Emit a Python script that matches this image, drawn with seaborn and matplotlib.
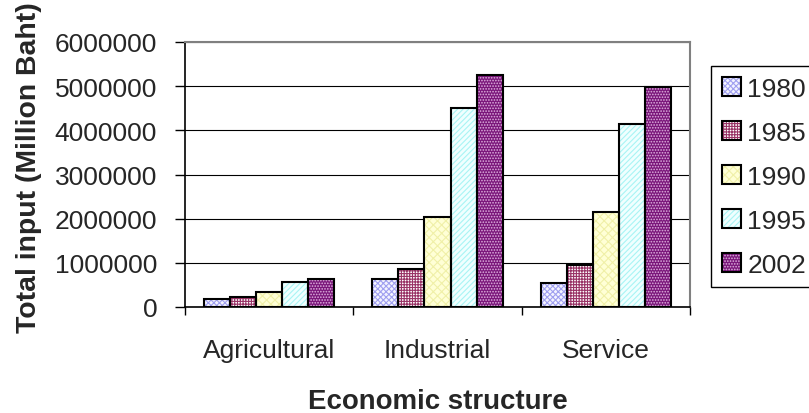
import matplotlib
matplotlib.use('Agg')
import matplotlib.pyplot as plt
import seaborn as sns
import pandas as pd
from matplotlib.patches import Rectangle, Patch
from matplotlib.legend_handler import HandlerTuple
from matplotlib.ticker import StrMethodFormatter

# ---- data ----
sectors = ['Agricultural', 'Industrial', 'Service']
years = ['1980', '1985', '1990', '1995', '2002']
v1980 = [170000, 645000, 550000]
v1985 = [225000, 857000, 940000]
v1990 = [345000, 2030000, 2140000]
v1995 = [555000, 4516000, 4136000]
v2002 = [645000, 5250000, 4980000]
yticks = [0, 1000000, 2000000, 3000000, 4000000, 5000000, 6000000]

series = [v1980, v1985, v1990, v1995, v2002]
rows = []
for yr, vals in zip(years, series):
    for s, v in zip(sectors, vals):
        rows.append({'sector': s, 'year': yr, 'value': v})
df = pd.DataFrame(rows)

# face colour, hatch, hatch colour
styles = {
    '1980': ('#F4F4FF', 'xxxxxx', '#A0A0F0'),
    '1985': ('#FFFFFF', '++++++', '#993366'),
    '1990': ('#FFFFD6', 'xxxx', '#F0F0A8'),
    '1995': ('#F0FFFF', '//////', '#A8F4F4'),
    '2002': ('#7A167A', '......', '#E0B4E0'),
}

sns.set_style('white')
plt.rcParams['font.family'] = ['Liberation Sans', 'DejaVu Sans']
plt.rcParams['hatch.linewidth'] = 0.8

fig = plt.figure(figsize=(8.09, 4.14), dpi=100)
ax = fig.add_axes([185/809, 1-308/414, (690-185)/809, (308-43)/414])

sns.barplot(data=df, x='sector', y='value', hue='year', hue_order=years,
            order=sectors, palette=[styles[y][0] for y in years],
            saturation=1, width=0.774, gap=0, errorbar=None, legend=False,
            linewidth=0, edgecolor='none', ax=ax)

for cont, yr in zip(ax.containers, years):
    fc, h, hc = styles[yr]
    for bar in cont:
        bar.set_hatch(h)
        bar.set_edgecolor(hc)
        bar.set_linewidth(0)
        ax.add_patch(Rectangle(bar.get_xy(), bar.get_width(), bar.get_height(),
                               fill=False, ec='black', lw=1.5,
                               zorder=bar.get_zorder() + 0.1))

ax.set_ylim(0, 6000000)
ax.set_yticks(yticks)
ax.yaxis.set_major_formatter(StrMethodFormatter('{x:.0f}'))
ax.set_xlim(-0.5, 2.5)
ax.set_xticks([-0.5, 0.5, 1.5, 2.5], minor=True)

ax.yaxis.grid(True, color='black', lw=0.8)
ax.set_axisbelow(True)

for side in ['left', 'bottom']:
    ax.spines[side].set_color('black')
    ax.spines[side].set_linewidth(1.2)
for side in ['top', 'right']:
    ax.spines[side].set_color('#808080')
    ax.spines[side].set_linewidth(1.5)

ax.tick_params(axis='y', which='major', direction='out', length=7, width=1,
               color='black', pad=13, labelsize=19, left=True)
ax.tick_params(axis='x', which='major', length=0, pad=22, labelsize=19)
ax.tick_params(axis='x', which='minor', direction='out', length=6, width=1,
               color='black', bottom=True)

ax.set_xlabel('Economic structure', fontsize=19.9, fontweight='bold', va='top')
ax.xaxis.set_label_coords(0.5, -0.305)
ax.set_ylabel('Total input (Million Baht)', fontsize=20.4, fontweight='bold')
ax.yaxis.set_label_coords(-0.283, 0.53)

handles = [(Patch(fc=styles[y][0], hatch=styles[y][1], ec=styles[y][2], lw=0),
            Patch(fill=False, ec='black', lw=1.5)) for y in years]
leg = fig.legend(handles, years, handler_map={tuple: HandlerTuple(ndivide=1, pad=0)},
                 loc='upper left', bbox_to_anchor=(711/809, 1-67/414),
                 bbox_transform=fig.transFigure, fontsize=19, frameon=True,
                 fancybox=False, edgecolor='black', framealpha=1,
                 borderpad=0.4, labelspacing=0.76, handlelength=0.72,
                 handleheight=0.72, handletextpad=0.26, borderaxespad=0)
leg.get_frame().set_linewidth(1.0)

fig.savefig('out.png', dpi=100)
